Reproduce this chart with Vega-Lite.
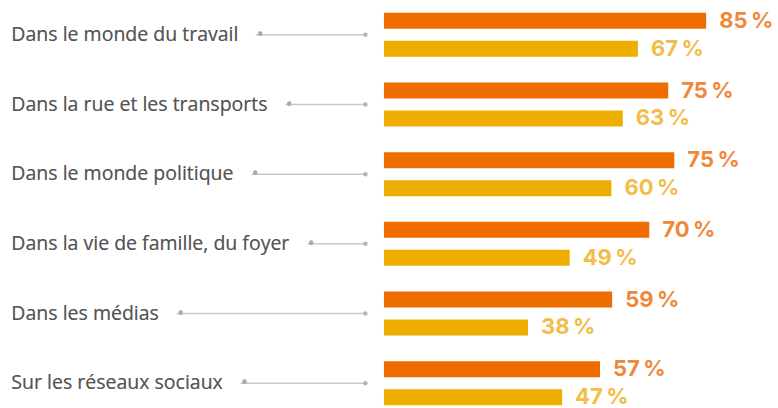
{
  "$schema": "https://vega.github.io/schema/vega-lite/v6.json",
  "width": 778,
  "height": 418,
  "padding": 0,
  "autosize": {"type": "none"},
  "background": "white",
  "view": {"stroke": null},
  "config": {"font": "Open Sans"},
  "datasets": {
    "cats": [
      {"category": "Dans le monde du travail"},
      {"category": "Dans la rue et les transports"},
      {"category": "Dans le monde politique"},
      {"category": "Dans la vie de famille, du foyer"},
      {"category": "Dans les médias"},
      {"category": "Sur les réseaux sociaux"}
    ],
    "bars": [
      {"category": "Dans le monde du travail", "series": "A", "value": 85, "shown": 85},
      {"category": "Dans le monde du travail", "series": "B", "value": 67, "shown": 67},
      {"category": "Dans la rue et les transports", "series": "A", "value": 75, "shown": 75},
      {"category": "Dans la rue et les transports", "series": "B", "value": 63, "shown": 63},
      {"category": "Dans le monde politique", "series": "A", "value": 76.6, "shown": 75},
      {"category": "Dans le monde politique", "series": "B", "value": 60, "shown": 60},
      {"category": "Dans la vie de famille, du foyer", "series": "A", "value": 70, "shown": 70},
      {"category": "Dans la vie de famille, du foyer", "series": "B", "value": 49, "shown": 49},
      {"category": "Dans les médias", "series": "A", "value": 60.2, "shown": 59},
      {"category": "Dans les médias", "series": "B", "value": 38, "shown": 38},
      {"category": "Sur les réseaux sociaux", "series": "A", "value": 57, "shown": 57},
      {"category": "Sur les réseaux sociaux", "series": "B", "value": 47, "shown": 47}
    ]
  },
  "layer": [
    {
      "data": {"name": "cats"},
      "mark": {"type": "rule", "color": "#c9c9c9", "strokeWidth": 1.5},
      "encoding": {
        "y": {"field": "category", "type": "nominal", "sort": null, "scale": {"paddingInner": 0, "paddingOuter": 0}, "axis": null},
        "x": {"datum": -98, "type": "quantitative", "scale": {"domain": [-101.3, 103.96], "nice": false, "zero": false}, "axis": null},
        "x2": {"datum": -4.9}
      }
    },
    {
      "data": {"name": "cats"},
      "mark": {"type": "circle", "color": "#b5b5b5", "opacity": 1, "size": 20},
      "encoding": {
        "y": {"field": "category", "type": "nominal", "sort": null, "scale": {"paddingInner": 0, "paddingOuter": 0}, "axis": null},
        "x": {"datum": -4.9, "type": "quantitative", "scale": {"domain": [-101.3, 103.96], "nice": false, "zero": false}, "axis": null}
      }
    },
    {
      "data": {"name": "cats"},
      "mark": {"type": "text", "align": "left", "baseline": "middle", "fontSize": 19.5, "stroke": "white", "strokeWidth": 38, "strokeJoin": "round", "fill": "white"},
      "encoding": {
        "y": {"field": "category", "type": "nominal", "sort": null, "scale": {"paddingInner": 0, "paddingOuter": 0}, "axis": null},
        "x": {"datum": -98.3, "type": "quantitative", "scale": {"domain": [-101.3, 103.96], "nice": false, "zero": false}, "axis": null},
        "text": {"field": "category"}
      }
    },
    {
      "data": {"name": "cats"},
      "transform": [{"calculate": "datum.category + '\u2002\u00a0\u2009•'", "as": "dotted"}],
      "mark": {"type": "text", "align": "left", "baseline": "middle", "fontSize": 19.5, "fill": "#a9a9a9"},
      "encoding": {
        "y": {"field": "category", "type": "nominal", "sort": null, "scale": {"paddingInner": 0, "paddingOuter": 0}, "axis": null},
        "x": {"datum": -98.3, "type": "quantitative", "scale": {"domain": [-101.3, 103.96], "nice": false, "zero": false}, "axis": null},
        "text": {"field": "dotted"}
      }
    },
    {
      "data": {"name": "cats"},
      "mark": {"type": "text", "align": "left", "baseline": "middle", "fontSize": 19.5, "fill": "#555555"},
      "encoding": {
        "y": {"field": "category", "type": "nominal", "sort": null, "scale": {"paddingInner": 0, "paddingOuter": 0}, "axis": null},
        "x": {"datum": -98.3, "type": "quantitative", "scale": {"domain": [-101.3, 103.96], "nice": false, "zero": false}, "axis": null},
        "text": {"field": "category"}
      }
    },
    {
      "data": {"name": "bars"},
      "mark": {"type": "bar", "cornerRadius": 0},
      "encoding": {
        "y": {"field": "category", "type": "nominal", "sort": null, "scale": {"paddingInner": 0, "paddingOuter": 0}, "axis": null},
        "yOffset": {"field": "series", "type": "nominal", "scale": {"paddingInner": 0.4286, "paddingOuter": 0.459}},
        "x": {"field": "value", "type": "quantitative", "scale": {"domain": [-101.3, 103.96], "nice": false, "zero": false}, "axis": null},
        "x2": {"datum": 0},
        "color": {"condition": {"test": "datum.series === 'A'", "value": "#ee6c00"}, "value": "#edae00"}
      }
    },
    {
      "data": {"name": "bars"},
      "transform": [{"calculate": "datum.shown + '\u202f%'", "as": "label"}],
      "mark": {"type": "text", "align": "left", "baseline": "middle", "font": "Inter", "fontSize": 22, "fontWeight": 700, "dx": 13},
      "encoding": {
        "y": {"field": "category", "type": "nominal", "sort": null, "scale": {"paddingInner": 0, "paddingOuter": 0}, "axis": null},
        "yOffset": {"field": "series", "type": "nominal", "scale": {"paddingInner": 0.4286, "paddingOuter": 0.459}},
        "x": {"field": "value", "type": "quantitative", "scale": {"domain": [-101.3, 103.96], "nice": false, "zero": false}, "axis": null},
        "text": {"field": "label"},
        "color": {"condition": {"test": "datum.series === 'A'", "value": "#f0883a"}, "value": "#f2bd48"}
      }
    }
  ]
}
